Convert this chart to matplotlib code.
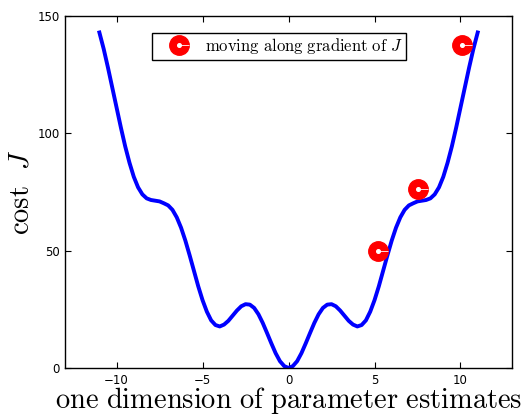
import matplotlib
matplotlib.use("Agg")
import matplotlib.pyplot as plt
from matplotlib.lines import Line2D
from matplotlib.path import Path

plt.rcParams["mathtext.fontset"] = "cm"
plt.rcParams["font.family"] = "DejaVu Sans"

# cost curve samples
theta = [-11.0, -10.75, -10.5, -10.25, -10.0, -9.75, -9.5, -9.25, -9.0, -8.75,
         -8.5, -8.25, -8.0, -7.75, -7.5, -7.25, -7.0, -6.75, -6.5, -6.25,
         -6.0, -5.75, -5.5, -5.25, -5.0, -4.75, -4.5, -4.25, -4.0, -3.75,
         -3.5, -3.25, -3.0, -2.75, -2.5, -2.25, -2.0, -1.75, -1.5, -1.25,
         -1.0, -0.75, -0.5, -0.25, 0.0, 0.25, 0.5, 0.75, 1.0, 1.25,
         1.5, 1.75, 2.0, 2.25, 2.5, 2.75, 3.0, 3.25, 3.5, 3.75,
         4.0, 4.25, 4.5, 4.75, 5.0, 5.25, 5.5, 5.75, 6.0, 6.25,
         6.5, 6.75, 7.0, 7.25, 7.5, 7.75, 8.0, 8.25, 8.5, 8.75,
         9.0, 9.25, 9.5, 9.75, 10.0, 10.25, 10.5, 10.75, 11.0]
cost = [143.0, 136.0, 128.0, 119.5, 111.0, 102.5, 94.5, 87.5, 81.5, 77.0,
        74.0, 72.3, 71.6, 71.3, 71.0, 70.2, 69.3, 67.4, 64.2, 59.8,
        54.3, 48.0, 41.4, 34.8, 28.9, 24.0, 20.3, 18.3, 17.7, 18.5,
        20.1, 22.3, 24.5, 26.3, 27.2, 27.0, 25.6, 22.9, 19.2, 14.9,
        10.5, 6.3, 2.9, 0.8, 0.0, 0.8, 2.9, 6.3, 10.5, 14.9,
        19.2, 22.9, 25.6, 27.0, 27.2, 26.3, 24.5, 22.3, 20.1, 18.5,
        17.7, 18.3, 20.3, 24.0, 28.9, 34.8, 41.4, 48.0, 54.3, 59.8,
        64.2, 67.4, 69.3, 70.2, 71.0, 71.3, 71.6, 72.3, 74.0, 77.0,
        81.5, 87.5, 94.5, 102.5, 111.0, 119.5, 128.0, 136.0, 143.0]

# gradient steps
step_x = [5.2, 7.5, 10.1]
step_y = [50.0, 76.5, 137.5]

fig = plt.figure(figsize=(5.22, 4.15), dpi=100)
ax = fig.add_axes([0.1245, 0.1133, 0.8565, 0.848])

ax.plot(theta, cost, color="#0000ff", lw=2.8, zorder=2)

tail = Path([(0, 0), (1, 0)])
ms = 14
ax.plot(step_x, step_y, ls="none", marker="o", ms=ms, mfc="#ff0000",
        mec="#ff0000", zorder=3)
ax.plot(step_x, step_y, ls="none", marker=tail, ms=ms, mec="white",
        mew=0.6, zorder=4)
ax.plot(step_x, step_y, ls="none", marker="o", ms=2.6, mfc="white",
        mec="white", zorder=5)

ax.set_xlim(-13, 13)
ax.set_ylim(0, 150)
ax.set_xticks([-10, -5, 0, 5, 10])
ax.set_yticks([0, 50, 100, 150])
ax.tick_params(direction="in", length=4, width=0.8, top=True, right=True,
               labelsize=8.5, pad=4)
for s in ax.spines.values():
    s.set_linewidth(1.0)

ax.set_xlabel(r"$\mathrm{one\ dimension\ of\ parameter\ estimates}$",
              fontsize=20.5, labelpad=-1)
ax.set_ylabel(r"$\mathrm{cost}\ \ J$", fontsize=20.5, labelpad=2)

h = (Line2D([], [], ls="none", marker="o", ms=ms, mfc="#ff0000", mec="#ff0000"),
     Line2D([], [], ls="none", marker=tail, ms=ms, mec="white", mew=0.6),
     Line2D([], [], ls="none", marker="o", ms=2.6, mfc="white", mec="white"))
leg = ax.legend([h], [r"$\mathrm{moving\ along\ gradient\ of}\ J$"],
                loc="upper left", bbox_to_anchor=(0.195, 0.952),
                borderaxespad=0, fontsize=12, fancybox=False,
                edgecolor="black", framealpha=1, borderpad=0.2,
                handlelength=2.8, handletextpad=0.15)
leg.get_frame().set_linewidth(1.0)

fig.savefig("out.png", dpi=100)
